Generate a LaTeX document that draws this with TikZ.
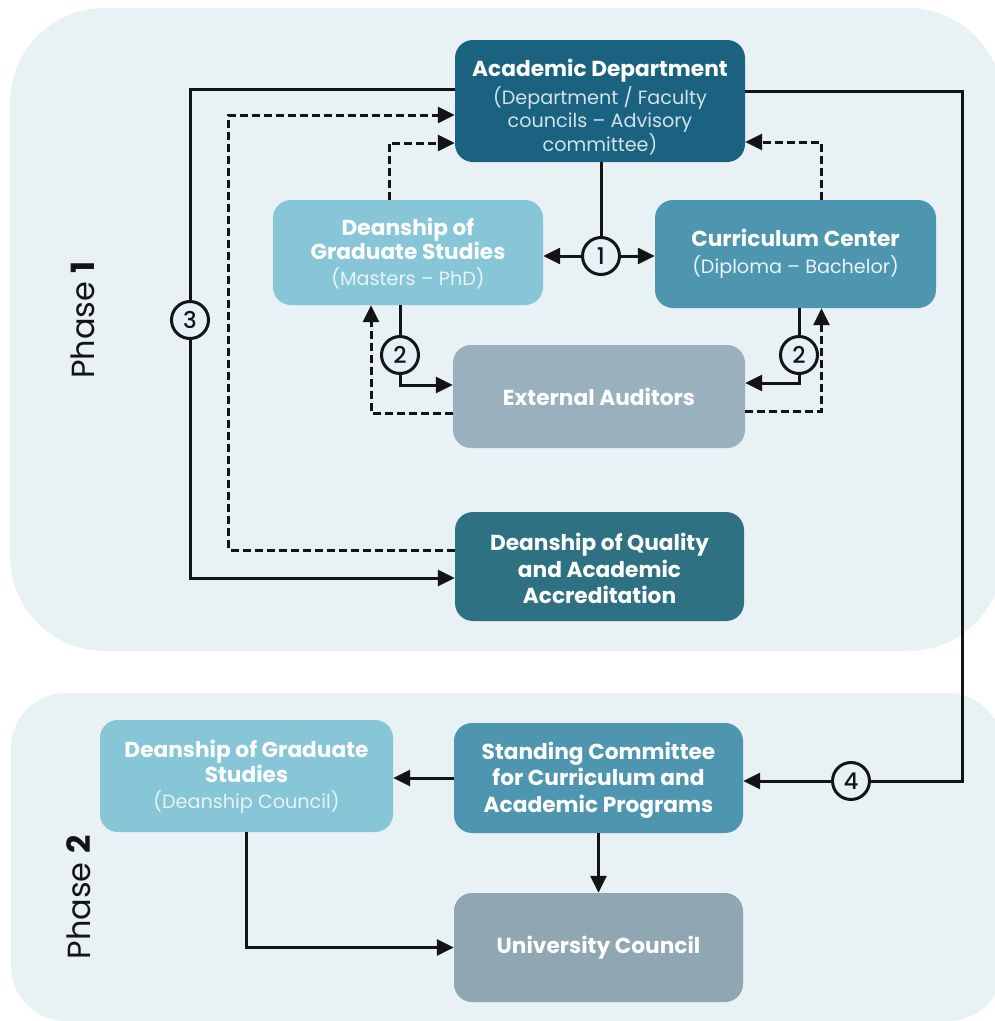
\documentclass[tikz,border=0pt]{standalone}
\usepackage{fontspec}
\setmainfont{Poppins}
\newfontfamily\digitfont{Poppins Medium}
\usetikzlibrary{arrows.meta,calc}
\definecolor{panel}{RGB}{232,241,244}
\definecolor{cAD}{RGB}{27,98,128}
\definecolor{cDG}{RGB}{134,198,215}
\definecolor{cCC}{RGB}{78,150,176}
\definecolor{cEA}{RGB}{153,176,190}
\definecolor{cDQ}{RGB}{46,113,130}
\definecolor{cUC}{RGB}{143,167,179}
\definecolor{subA}{RGB}{208,226,234}
\definecolor{subB}{RGB}{232,244,248}
\definecolor{circfill}{RGB}{228,242,247}
\definecolor{ink}{RGB}{20,20,20}
\newcommand{\subt}[2]{{\color{#1}\mdseries\fontsize{19.2}{23.5}\selectfont #2}}
\begin{document}
\begin{tikzpicture}[x=1pt,y=1pt,
  box/.style={rounded corners=18pt, inner sep=0pt},
  txt/.style={text=white, align=center, inner sep=0pt,
    font=\bfseries\fontsize{21.7}{26.5}\selectfont},
  circ/.style={circle, draw=ink, line width=3pt, fill=circfill, inner sep=0pt,
    minimum size=37pt, text=ink, font=\digitfont\fontsize{23}{23}\selectfont},
  conn/.style={draw=ink, line width=3pt, -{Triangle[length=17pt,width=16pt]}},
  plain/.style={draw=ink, line width=3pt},
  dsh/.style={conn, dash pattern=on 8pt off 4pt},
  phase/.style={rotate=90, text=ink, font=\fontsize{32}{32}\selectfont}
]
\useasboundingbox (0,0) rectangle (995,-1021);
% panels
\fill[panel, rounded corners=95pt] (10,-8) rectangle (1003,-651);
\fill[panel, rounded corners=55pt] (11,-693) rectangle (1003,-1021);

% phase labels
\node[phase] (ph1) at (83,-320) {Phase \textbf{1}};
\node[phase] (ph2) at (78.5,-897.5) {Phase \textbf{2}};

% boxes
\node[box, fill=cAD, minimum width=290pt, minimum height=122pt] (AD) at (600,-101) {};
\node[txt] (ADt) at ([yshift=-6pt]AD.center)
  {Academic Department\\[1pt]\subt{subA}{(Department / Faculty}\\[-3pt]\subt{subA}{councils -- Advisory}\\[-3pt]\subt{subA}{committee)}};
\node[box, fill=cDG, minimum width=270pt, minimum height=105pt] (DG1) at (408,-252.5) {};
\node[txt] (DG1t) at ([yshift=-1pt]DG1.center)
  {Deanship of\\[-2.5pt]Graduate Studies\\[0pt]\subt{subB}{(Masters -- PhD)}};
\node[box, fill=cCC, minimum width=281pt, minimum height=108pt] (CC) at (795.5,-254) {};
\node[txt] (CCt) at (CC.center)
  {Curriculum Center\\\subt{subB}{(Diploma -- Bachelor)}};
\node[box, fill=cEA, minimum width=292pt, minimum height=103pt] (EA) at (599,-396.5) {};
\node[txt] (EAt) at (EA.center) {External Auditors};
\node[box, fill=cDQ, minimum width=289pt, minimum height=109pt] (DQ) at (599.5,-566.5) {};
\node[txt] (DQt) at ([yshift=-2pt]DQ.center)
  {Deanship of Quality\\and Academic\\Accreditation};
\node[box, fill=cDG, minimum width=293pt, minimum height=112pt] (DG2) at (246.5,-776) {};
\node[txt] (DG2t) at ([yshift=-1pt]DG2.center)
  {Deanship of Graduate\\[-1.5pt]Studies\\\subt{subB}{(Deanship Council)}};
\node[box, fill=cCC, minimum width=289pt, minimum height=110pt] (SC) at (598.5,-778) {};
\node[txt] (SCt) at ([yshift=-2pt]SC.center)
  {Standing Committee\\for Curriculum and\\Academic Programs};
\node[box, fill=cUC, minimum width=289pt, minimum height=109pt] (UC) at (598.5,-947.5) {};
\node[txt] (UCt) at (UC.center) {University Council};

% circles
\node[circ] (c1) at (601,-256) {1};
\node[circ] (c2a) at (400,-355) {2};
\node[circ] (c2b) at (799,-355) {2};
\node[circ] (c3) at (190,-320) {3};
\node[circ] (c4) at (851,-781) {4};

% connectors phase 1
\draw[plain] ([yshift=12pt]AD.west) -| (c3.north);
\draw[conn] (c3.south) |- ([yshift=-11.5pt]DQ.west);
\draw[dsh] ([yshift=16.5pt]DQ.west) -- ++(-226,0) |- ([yshift=-14pt]AD.west);
\draw[dsh] ([xshift=-19pt]DG1.north) |- ([yshift=-42pt]AD.west);
\draw[dsh] ([xshift=25.5pt]CC.north) |- ([yshift=-41pt]AD.east);
\draw[plain] (AD.south -| c1.north) -- (c1.north);
\draw[conn] (c1.west) -- (DG1.east |- c1.west);
\draw[conn] (c1.east) -- (CC.west |- c1.east);
\draw[plain] (DG1.south -| c2a.north) -- (c2a.north);
\draw[conn] (c2a.south) |- ([yshift=11.5pt]EA.west);
\draw[dsh] ([yshift=-17pt]EA.west) -| ([xshift=-37pt]DG1.south);
\draw[plain] (CC.south -| c2b.north) -- (c2b.north);
\draw[conn] (c2b.south) |- ([yshift=13.5pt]EA.east);
\draw[dsh] ([yshift=-15pt]EA.east) -| ([xshift=26pt]CC.south);
% connectors to phase 2
\draw[plain] ([yshift=10pt]AD.east) -- ++(217,0) |- (c4.east);
\draw[conn] (c4.west) -- (SC.east |- c4.west);
\draw[conn] (SC.west) -- (DG2.east |- SC.west);
\draw[conn] (SC.south) -- (UC.north);
\draw[conn] (DG2.south) |- (UC.west);
\end{tikzpicture}
\end{document}
